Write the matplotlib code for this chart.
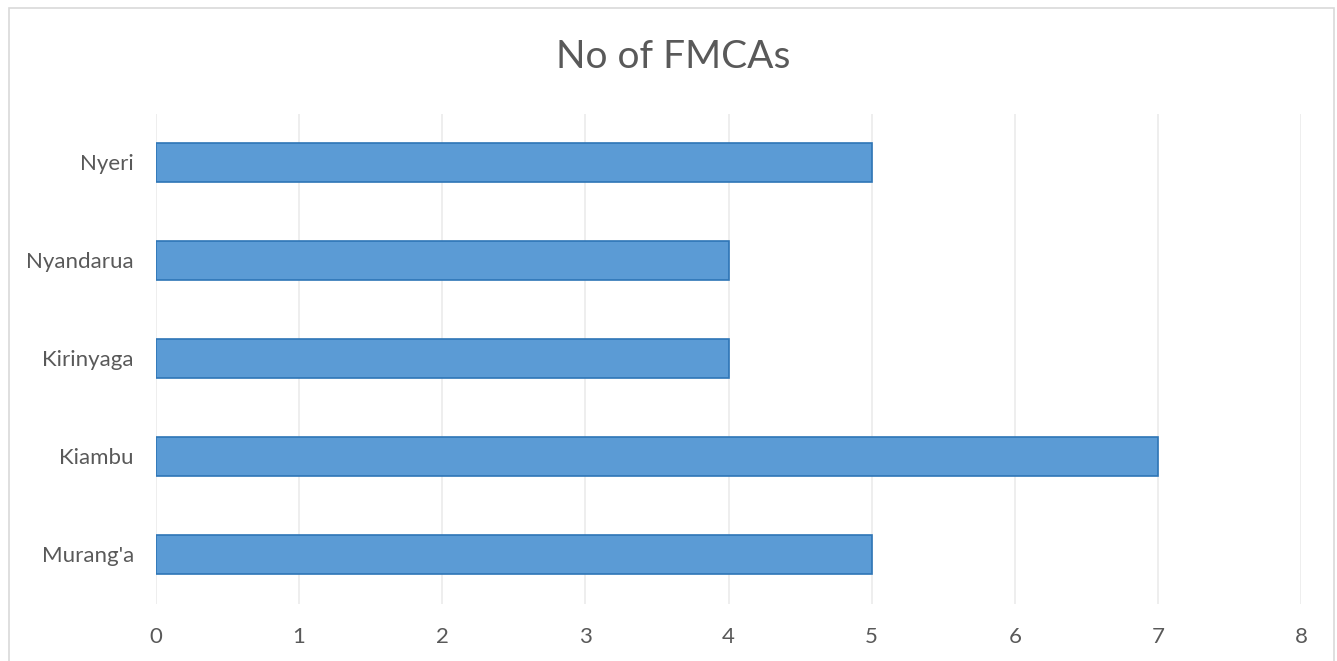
import matplotlib
matplotlib.use("Agg")
import matplotlib.pyplot as plt
from matplotlib.patches import Rectangle

categories = ["Murang'a", "Kiambu", "Kirinyaga", "Nyandarua", "Nyeri"]
values = [5, 7, 4, 4, 5]
xticks = [0, 1, 2, 3, 4, 5, 6, 7, 8]
title = "No of FMCAs"

plt.rcParams['font.family'] = ['Lato', 'DejaVu Sans']
W, H = 1337, 661
fig = plt.figure(figsize=(W / 100, H / 100), dpi=100)
fig.patches.append(Rectangle((9 / W, -0.01), (1334 - 9) / W, (H - 8) / H + 0.01,
                             transform=fig.transFigure, fill=False,
                             edgecolor='#D9D9D9', linewidth=1.2))

ax = fig.add_axes([156 / W, (H - 603.5) / H, (1301 - 156) / W, (603.5 - 113.5) / H])
ax.barh(range(len(categories)), values, height=0.4, color='#5B9BD5',
        edgecolor='#2E75B6', linewidth=1.2, zorder=3)
ax.set_xlim(0, 8)
ax.set_ylim(-0.5, len(categories) - 0.5)
ax.set_xticks(xticks)
ax.set_xticklabels([str(t) for t in xticks])
ax.set_yticks(range(len(categories)))
ax.set_yticklabels(categories)
ax.grid(axis='x', color='#EBEBEB', linewidth=1.2, zorder=0)
for s in ax.spines.values():
    s.set_visible(False)
ax.tick_params(axis='both', length=0, labelsize=16, labelcolor='#595959')
ax.tick_params(axis='x', pad=17)
ax.tick_params(axis='y', pad=16)
fig.text(673 / W, 1 - 57 / H, title, ha='center', va='center', fontsize=28, color='#595959')

fig.savefig("out.png", dpi=100)
